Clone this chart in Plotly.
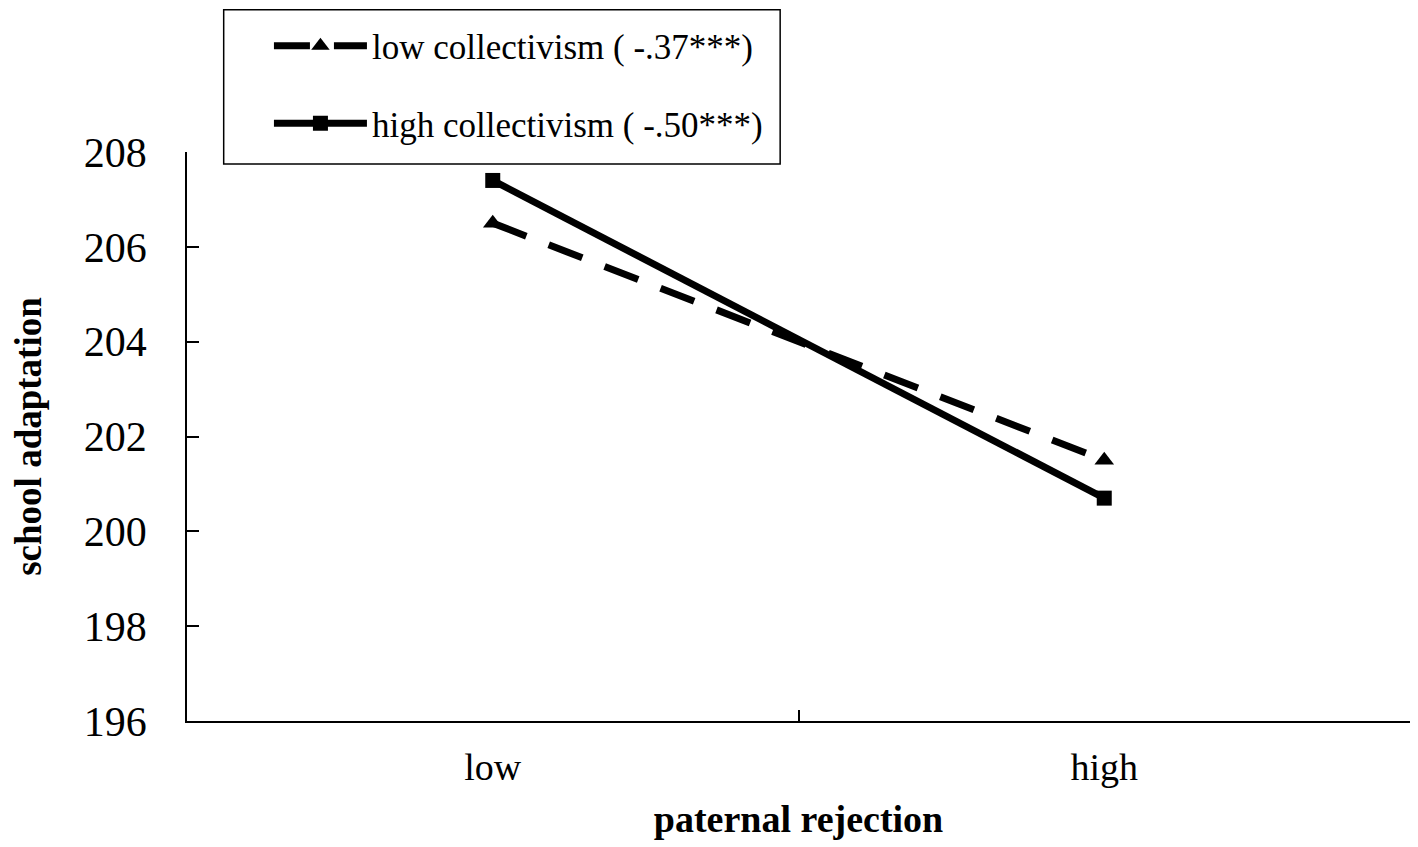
import plotly.graph_objects as go

# data
categories = ['low', 'high']
low_collectivism = [206.5, 201.5]
high_collectivism = [207.4, 200.7]
y_ticks = [196, 198, 200, 202, 204, 206, 208]

font_family = "Liberation Serif, Times New Roman, serif"

fig = go.Figure()

fig.add_trace(go.Scatter(
    x=categories, y=low_collectivism,
    mode='lines+markers',
    name='low collectivism ( -.37***)',
    legendgroup='low',
    line=dict(color='black', width=7, dash='36px,24px'),
    marker=dict(symbol='triangle-up', size=17, color='black'),
))

fig.add_trace(go.Scatter(
    x=categories, y=high_collectivism,
    mode='lines+markers',
    name='high collectivism ( -.50***)',
    legendgroup='high',
    line=dict(color='black', width=7),
    marker=dict(symbol='square', size=15, color='black'),
))

# legend frame (box drawn separately so its padding matches the original)
fig.add_shape(
    type='rect', xref='paper', yref='paper',
    x0=0.030, x1=0.485, y0=0.979, y1=1.25,
    line=dict(color='black', width=1.5),
    fillcolor='white', layer='above',
)

fig.update_layout(
    width=1410, height=839,
    paper_bgcolor='white', plot_bgcolor='white',
    font=dict(family=font_family, color='black'),
    margin=dict(l=179, r=8, t=142, b=126),
    showlegend=True,
    legend=dict(
        x=0.067, y=1.238, xanchor='left', yanchor='top',
        bgcolor='rgba(0,0,0,0)', borderwidth=0,
        font=dict(size=35, family=font_family),
        tracegroupgap=29,
        itemwidth=93,
    ),
    xaxis=dict(
        type='category',
        range=[-0.5, 1.5],
        tickson='boundaries',
        ticks='inside', ticklen=11, tickcolor='black', tickwidth=1.5,
        showline=True, linecolor='black', linewidth=1.5,
        showgrid=False, zeroline=False,
        tickfont=dict(size=38),
        ticklabelstandoff=12,
        title=dict(text='<b>paternal rejection</b>', font=dict(size=38), standoff=18),
    ),
    yaxis=dict(
        range=[196, 208],
        tickvals=y_ticks,
        ticks='inside', ticklen=12, tickcolor='black', tickwidth=1.5,
        showline=True, linecolor='black', linewidth=1.5,
        showgrid=False, zeroline=False,
        tickfont=dict(size=42),
        ticklabelstandoff=30,
        title=dict(text='<b>school adaptation</b>', font=dict(size=37), standoff=36),
    ),
)

fig.write_html("out.html")
